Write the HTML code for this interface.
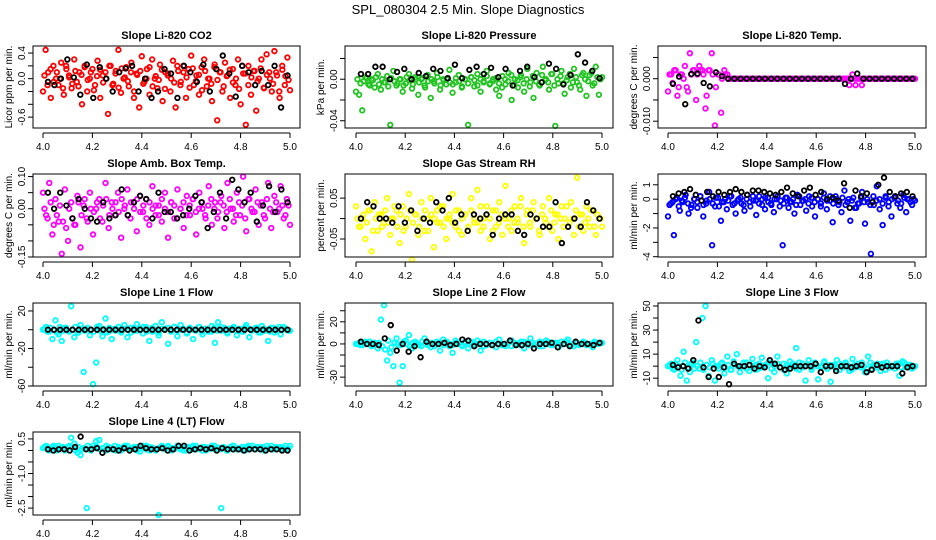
<!DOCTYPE html>
<html><head><meta charset="utf-8">
<style>
html,body{margin:0;padding:0;background:#fff;}
svg{display:block;font-family:"Liberation Sans",Arial,sans-serif;}
</style></head>
<body>
<svg id="chart" width="936" height="540" viewBox="0 0 936 540" xmlns="http://www.w3.org/2000/svg">
<text x="468" y="14" text-anchor="middle" font-size="13">SPL_080304  2.5 Min. Slope Diagnostics</text>
</svg>
<script>
const xTicks = [4.0, 4.2, 4.4, 4.6, 4.8, 5.0];
const xTickLabels = ["4.0", "4.2", "4.4", "4.6", "4.8", "5.0"];

const co2Main = [-0.2,0.45,0.1,-0.3,0.2,0.0,-0.1,0.25,-0.25,0.15,0.05,-0.15,0.3,-0.05,0.1,-0.4,0.2,-0.2,0.0,0.15,-0.1,0.28,-0.3,0.05,0.1,-0.55,0.2,-0.08,0.12,0.45,-0.22,0.0,0.18,-0.12,0.25,-0.3,0.08,-0.45,0.35,-0.05,0.15,-0.25,0.3,0.0,-0.15,0.22,-0.35,0.1,0.05,-0.2,0.28,-0.45,0.12,-0.05,0.2,-0.3,0.15,0.36,-0.1,0.05,-0.25,0.18,0.3,-0.12,0.0,-0.35,0.22,-0.65,0.1,-0.2,0.25,0.05,-0.3,0.15,-0.1,0.3,-0.4,0.08,-0.72,0.2,-0.25,0.12,-0.5,0.0,0.3,-0.15,0.38,0.1,-0.2,0.43,0.05,-0.3,0.2,-0.1,0.33,-0.18];
const co2Core = [0.05,-0.1,0.15,-0.05,0.1,0.0,-0.15,0.2,0.02,-0.08,0.12,-0.12,0.06,0.18,-0.02,0.1,-0.18,0.04,0.14,-0.06,0.0,0.2,-0.1,0.08,-0.14,0.16,0.02,-0.04,0.1,-0.2,0.06,0.12,-0.08,0.0,0.18,-0.12,0.04,-0.02,0.14,-0.16,0.08,0.0,-0.06,0.2,-0.1,0.1,0.02,-0.14,0.16,-0.04,0.06,-0.18,0.12,0.0,-0.08,0.18,-0.02,0.1,-0.12,0.04,0.14,-0.06,0.0,-0.16,0.2,0.08,-0.1,0.02,0.12,-0.04,0.16,-0.14,0.06,0.0,-0.08,0.1,-0.2,0.14,0.04,-0.02];
const co2Black = [-0.05,-0.1,0.0,0.3,0.02,-0.25,0.22,-0.3,0.18,0.0,-0.2,0.1,0.16,0.2,-0.2,0.0,-0.3,-0.2,0.15,0.08,-0.3,0.2,0.1,-0.05,0.22,-0.2,0.15,0.36,0.08,-0.28,0.2,0.1,-0.1,0.12,-0.1,0.2,-0.45,0.05];

const presMain = [-0.012,-0.015,-0.03,0.002,-0.005,0.0,-0.008,0.005,-0.01,-0.003,0.003,-0.044,0.008,-0.006,0.0,-0.012,-0.004,0.005,-0.009,0.002,-0.015,0.0,-0.006,0.004,-0.018,-0.002,0.006,-0.01,0.0,-0.005,0.009,-0.013,-0.003,0.004,-0.008,0.0,-0.044,0.002,-0.007,0.005,-0.012,-0.002,0.008,-0.004,0.0,-0.01,-0.016,0.003,-0.005,0.006,-0.02,0.0,-0.008,0.004,-0.012,0.01,-0.003,-0.018,0.006,-0.006,0.012,0.0,-0.01,0.005,-0.045,-0.004,0.008,-0.014,0.002,-0.008,0.01,-0.003,-0.01,0.006,-0.016,0.004,-0.006,0.012,-0.015,0.002];
const presCore = [0.0,-0.004,-0.002,0.001,-0.006,-0.001,0.002,-0.005,0.0,-0.003,-0.007,0.001,-0.002,-0.004,0.0,-0.006,0.002,-0.001,-0.005,0.0,-0.003,0.001,-0.008,-0.002,0.0,-0.004,0.002,-0.006,-0.001,0.0,-0.003,-0.005,0.001,-0.002,-0.007,0.0,-0.004,0.002,-0.001,-0.006,0.0,-0.003,0.003,-0.005,-0.002,0.001,-0.004,-0.008,0.0,-0.002,0.004,-0.006,-0.001,0.002,-0.004,0.0,-0.007,0.003,-0.002,-0.005,0.004,-0.001,-0.003,0.005,-0.006,0.0,0.003,-0.004,-0.001,0.005,-0.003,0.002,-0.006,0.004,0.0,-0.002,0.006,-0.004,0.002,0.0];
const presBlack = [0.005,0.005,0.012,0.012,0.0,0.007,0.01,0.0,0.006,0.003,0.01,0.008,0.001,0.014,0.001,0.009,0.012,0.005,0.011,0.002,0.01,-0.006,0.008,0.012,0.002,-0.003,0.015,0.01,-0.005,0.004,0.024,0.016,0.008,0.001];

const tempMain = [-0.003,0.001,0.002,-0.004,0.001,0.0,-0.002,0.006,0.002,-0.005,0.003,0.002,-0.007,0.002,0.006,-0.011,0.001,-0.008,0.002,0.001,0,0,0,0,0,0,0,0,0,0,0,0,0,0,0,0,0,0,0,0,0,0,0,0,0,0,0,0,0,0,0,0,0,0,0,0,0,0,-0.0015,0.001,-0.0015,0,-0.0015,0,0,0,0,0,0,0,0,0,0,0,0,0,0,0,0,0];
const tempCore = [0.001,-0.001,0.002,-0.002,0.001,0.003,-0.003,0.001,0.002,0.001,0.002,0.001,-0.004,0.002,0.001,-0.002,0.001,0.0,0.001,0,0,0,0,0,0,0,0,0,0,0,0,0,0,0,0,0,0,0,0,0,0,0,0,0,0,0,0,0,0,0,0,0,0,0,0,0,0,0,0,0,0,0,0,0,0,0,0,0,0,0,0,0,0,0,0,0,0,0,0,0];
const tempBlack = [-0.0012,0.0005,-0.006,0.0011,0.0012,-0.001,-0.0018,0.0015,0.0006,0,0,0,0,0,0,0,0,0,0,0,0,0,0,0,0,0,0,0,-0.0012,0,0.0012,0,0,0,0,0,0,0,0,0];

const ambMain = [0.05,-0.02,0.08,-0.08,0.03,-0.04,-0.14,0.06,-0.1,0.02,-0.05,0.04,-0.12,0.01,-0.03,0.05,-0.08,0.0,0.03,-0.04,0.08,-0.06,0.02,-0.02,0.05,-0.09,0.0,0.06,-0.03,0.02,-0.07,0.04,-0.01,0.03,-0.05,0.07,-0.02,0.01,-0.04,0.05,-0.09,0.02,-0.03,0.06,0.0,-0.06,0.04,-0.02,0.03,-0.08,0.05,0.0,-0.03,0.07,-0.05,0.02,-0.01,0.04,-0.06,0.08,0.0,-0.04,0.05,-0.02,0.1,-0.07,0.03,-0.01,0.06,-0.05,0.02,-0.03,0.08,-0.06,0.04,-0.01,0.07,-0.03,0.03,-0.05];
const ambCore = [0.0,-0.03,0.02,-0.05,-0.02,0.01,-0.04,-0.06,0.0,-0.03,-0.05,0.02,-0.02,0.03,-0.04,0.0,-0.01,0.02,-0.03,0.01,0.03,-0.02,0.0,0.02,-0.01,0.03,0.01,-0.02,0.02,0.0,0.03,-0.01,0.01,-0.03,0.02,0.0,0.01,-0.02,0.03,0.0,-0.01,0.02,0.01,-0.03,0.0,0.02,-0.02,0.01,0.03,-0.01,0.0,0.02,-0.02,0.01,0.03,0.0,-0.03,0.02,0.01,-0.01,0.03,0.0,-0.02,0.02,0.01,-0.03,0.03,0.0,-0.01,0.02,0.01,-0.02,0.03,0.0,-0.01,0.02,0.0,0.01,-0.02,0.01];
const ambBlack = [0.05,0.0,0.05,0.01,-0.03,0.03,0.0,-0.03,-0.04,0.02,-0.03,-0.02,0.06,-0.02,0.02,0.04,0.03,-0.03,0.05,-0.01,-0.01,-0.03,-0.02,0.0,0.04,0.02,-0.06,-0.01,0.05,-0.03,0.09,0.06,0.02,0.05,-0.04,0.01,0.07,-0.01,0.06,0.02];

const rhMain = [0.03,-0.02,0.0,-0.05,0.02,-0.08,0.04,-0.03,0.01,-0.01,0.05,-0.04,0.0,0.02,-0.06,0.03,-0.02,0.06,-0.1,0.01,-0.04,0.04,-0.03,0.0,0.05,-0.07,0.02,-0.01,0.03,-0.05,0.0,0.06,-0.02,0.02,-0.04,0.01,-0.03,0.05,-0.01,0.07,-0.03,0.0,0.03,-0.05,0.02,-0.02,0.04,-0.04,0.08,0.0,-0.03,0.03,-0.01,0.05,-0.06,0.02,-0.02,0.04,0.0,-0.04,0.03,-0.01,0.05,-0.03,0.01,-0.05,0.03,0.0,-0.02,0.04,-0.04,0.1,0.01,-0.03,0.03,-0.02,0.02,-0.04,0.0,-0.02];
const rhCore = [0.0,-0.02,0.01,-0.01,0.02,-0.03,0.0,0.01,-0.02,0.02,-0.01,0.0,0.03,-0.02,0.01,-0.03,0.0,0.02,-0.01,0.01,-0.02,0.0,0.02,-0.03,0.01,0.0,-0.01,0.03,-0.02,0.0,0.01,-0.01,0.02,-0.03,0.0,0.01,-0.02,0.02,0.0,-0.01,0.03,-0.02,0.01,0.0,-0.03,0.02,-0.01,0.01,0.0,-0.02,0.02,-0.01,0.0,0.03,-0.02,0.01,-0.01,0.02,0.0,-0.03,0.01,0.0,-0.02,0.02,-0.01,0.01,0.0,-0.02,0.03,-0.01,0.0,0.02,-0.02,0.01,-0.01,0.0,0.02,-0.02,0.01,0.0];
const rhBlack = [0.0,0.04,0.03,0.0,0.0,-0.01,0.03,-0.01,0.02,-0.03,0.0,-0.01,0.04,0.02,0.05,-0.01,0.01,-0.03,0.01,0.0,0.01,-0.04,0.0,0.01,0.01,-0.03,-0.04,0.01,0.0,-0.02,-0.02,0.04,-0.06,-0.02,0.0,-0.02,0.04,0.02,0.0];

const flowMain = [-1.2,-0.3,-2.5,0.1,-0.8,-0.2,0.3,-1.0,-0.4,0.0,-0.6,0.2,-1.2,-0.3,0.5,-3.2,-0.5,0.1,-1.5,-0.2,-0.7,0.2,-0.4,-1.0,0.0,-0.3,-0.8,0.3,-0.5,-0.1,-1.1,0.2,-0.4,-0.7,0.1,-0.3,-0.9,0.0,-0.5,-3.2,0.1,-0.6,-0.2,-1.0,0.3,-0.4,-0.1,-0.8,0.2,-0.5,-1.2,0.0,-0.3,0.4,-0.7,-0.1,-1.6,0.2,-0.4,-0.9,0.6,-0.2,-1.5,0.1,-0.6,-0.3,0.5,-1.7,-0.2,-3.8,-0.4,0.9,-0.7,-1.8,0.2,-0.5,-1.2,0.1,-0.3,-0.6,0.3,-0.9,0.0,-0.4,-0.1];
const flowCore = [-0.4,-0.2,0.0,-0.5,-0.1,0.1,-0.3,-0.6,0.0,-0.2,0.2,-0.4,-0.1,0.0,-0.3,0.1,-0.5,-0.2,0.0,-0.1,0.2,-0.3,-0.1,0.1,-0.4,0.0,-0.2,0.2,-0.1,-0.3,0.0,0.1,-0.2,-0.4,0.0,0.2,-0.1,-0.3,0.1,-0.2,0.0,-0.4,0.2,-0.1,0.0,-0.3,0.1,-0.2,0.0,-0.5,0.1,-0.1,0.2,-0.3,0.0,-0.2,0.1,-0.4,0.0,-0.1,-0.6,-0.3,0.1,-0.2,0.0,-0.4,0.2,-0.1,0.0,-0.3,0.1,-0.2,0.0,0.2,-0.1,-0.3,0.1,0.0,-0.2,0.0];
const flowBlack = [0.2,0.4,0.5,0.7,0.3,-0.1,0.5,0.2,0.5,0.3,0.5,0.7,0.5,0.3,0.6,0.6,0.5,0.4,0.3,0.5,0.8,0.4,0.2,0.6,0.8,0.3,0.5,0.0,0.1,-0.1,1.1,-0.6,0.6,0.2,0.4,-0.2,1.0,1.5,0.5,0.2,0.4,0.5,0.2];

const line1Main = [0,3,-2,-10,10,-5,-12,2,-1,25,-8,-3,5,-45,0,-6,-58,-35,4,-7,12,-2,-10,1,0,-3,5,-8,2,-1,6,0,-4,3,-12,-2,4,-6,8,1,-15,-2,3,-7,5,0,-4,2,-10,0,3,-5,1,-2,4,-14,8,-1,2,-4,0,3,-6,1,-2,5,-8,0,2,-3,4,-1,-12,2,-3,1,-5,3,0,-1];
const line1Core = [1,-2,2,0,-3,3,-1,2,-2,0,3,-3,1,-1,2,0,-2,3,-1,1,-3,2,0,-1,3,-2,1,0,-3,2,-1,1,3,-2,0,2,-1,-3,1,0,2,-2,3,-1,0,1,-3,2,0,-1,3,-2,1,0,-2,2,-1,3,0,-3,1,2,-1,0,-2,3,1,-1,0,2,-3,1,0,-2,2,-1,3,0,1,-1];
const line1Black = [0,0,0,0,0,0,0,0,0,0,0,0,0,0,0,0,0,0,0,0,0,0,0,0,0,0,0,0,0,0,0,0,0,0,0,0,0,0,0,0];

const line2Main = [0,1,-1,2,0,-2,1,-4,22,35,-15,-8,-20,5,-35,-20,3,8,-4,2,0,-2,5,1,-3,0,2,-6,4,1,-2,-8,3,0,-1,2,-4,1,0,3,-6,2,-1,1,0,-3,4,0,-2,1,3,-1,0,2,-4,1,5,-1,0,2,-2,3,0,-1,1,-3,2,0,4,-1,-2,1,0,2,-1,0,-3,1,0,1];
const line2Core = [0,-1,1,0,2,-1,0,1,-2,-5,3,-3,1,0,-1,2,0,-2,1,0,-1,2,0,-1,1,-2,0,1,-1,2,0,-1,1,0,-2,1,0,2,-1,0,1,-2,0,1,-1,2,0,-1,0,1,-2,1,0,-1,2,0,-1,1,0,-2,1,0,2,-1,0,1,-1,0,2,-2,0,1,-1,0,1,0,-1,2,0,1];
const line2Black = [2,0,0,-1,5,17,-6,0,-7,-2,-12,2,0,0,1,-1,0,4,3,-2,0,0,-1,0,0,3,-1,-1,0,-4,0,0,1,-3,0,-2,2,0,0,-1,1];

const line3Main = [0,2,-3,5,-8,12,-12,-5,3,20,-2,40,50,-8,5,-12,0,2,-6,8,-3,4,10,-5,0,3,-4,6,1,-2,7,0,-10,3,-5,8,-1,2,-6,4,0,15,-3,2,-12,5,-1,3,-11,0,4,-2,-13,1,5,-3,0,2,-4,6,-1,0,3,-5,8,-2,0,2,-4,1,3,-1,0,2,-8,4,-1,1,-2,0];
const line3Core = [1,-2,2,0,-3,3,-1,2,-2,0,3,-3,1,-1,2,0,-2,3,-1,1,-3,2,0,-1,3,-2,1,0,-3,2,-1,1,3,-2,0,2,-1,-3,1,0,2,-2,3,-1,0,1,-3,2,0,-1,3,-2,1,0,-2,2,-1,3,0,-3,1,2,-1,0,-2,3,1,-1,0,2,-3,1,0,-2,2,-1,3,0,1,-1];
const line3Black = [1,-1,0,-2,5,38,-1,-9,-2,-9,-1,-15,2,0,0,1,-2,0,-1,5,2,-1,-3,-2,0,0,0,0,2,-5,0,0,-4,0,0,-1,0,1,-5,-3,1,-1,0,0,0,-6,-1,0];

const line4Main = [0.1,0.2,0.0,0.15,0.05,0.2,0.1,0.0,0.15,0.55,0.3,-0.1,-0.2,0.1,-2.5,0.05,0.2,0.4,0.45,0.1,0.0,0.15,0.05,0.2,0.1,0.0,0.12,0.2,0.05,0.1,0.15,-0.05,0.1,0.2,0.0,0.12,0.05,-2.8,0.15,0.1,0.2,0.0,0.1,0.18,0.05,0.1,0.0,0.15,0.2,0.05,0.1,0.15,0.0,0.1,0.2,0.05,0.12,-2.5,0.1,0.0,0.15,0.2,0.05,0.1,0.0,0.15,0.1,0.2,0.05,0.1,0.15,0.0,0.1,0.2,0.05,0.1,0.15,0.1,0.05,0.2];
const line4Core = [0.15,0.05,0.1,0.2,0.0,0.1,0.15,0.05,0.2,0.1,0.0,0.15,0.05,0.1,0.2,0.0,0.1,0.15,0.05,0.1,0.2,0.05,0.1,0.0,0.15,0.1,0.2,0.05,0.1,0.15,0.0,0.1,0.2,0.05,0.15,0.1,0.0,0.1,0.2,0.05,0.15,0.1,0.05,0.2,0.1,0.0,0.15,0.1,0.05,0.2,0.1,0.0,0.15,0.05,0.1,0.2,0.1,0.05,0.15,0.0,0.1,0.2,0.05,0.1,0.15,0.0,0.2,0.1,0.05,0.15,0.1,0.0,0.2,0.1,0.05,0.15,0.1,0.05,0.2,0.1];
const line4Black = [0.05,0.0,0.05,0.05,0.0,0.15,0.6,0.05,0.05,0.1,-0.1,0.05,0.05,0.0,0.1,0.0,0.05,0.2,0.1,0.05,0.05,0.1,0.0,0.05,0.2,0.2,0.0,0.05,0.1,0.05,0.1,0.0,0.1,0.05,0.05,0.05,0.0,0.05,0.05,0.05,0.0,0.05,0.05,0.0,0.0];

const NS = "http://www.w3.org/2000/svg";
const svg = document.getElementById("chart");
const cols = [{l:33,r:300,x0:43,x1:290},{l:345,r:613,x0:356,x1:602},{l:658,r:926,x0:668,x1:915}];
const rows = [{t:46,b:128},{t:174,b:257},{t:303,b:386},{t:432,b:515}];

function mk(tag, attrs, parent){
  const e = document.createElementNS(NS, tag);
  for (const k in attrs) e.setAttribute(k, attrs[k]);
  (parent||svg).appendChild(e);
  return e;
}

function panel(name, title, ylab, col, row, ymin, ymax, yticks, ylabels, color, main, core, black){
  const c = cols[col], r = rows[row];
  const g = mk("g", {});
  
  
  const sx = v => c.x0 + (v - 4) * (c.x1 - c.x0);
  const sy = v => r.b - (v - ymin) / (ymax - ymin) * (r.b - r.t);
  const t = mk("text", {x:(c.l+c.r)/2, y:r.t-7, "text-anchor":"middle", "font-size":"11", "font-weight":"bold"}, g);
  t.textContent = title;
  
  
  const ptsG = mk("g", {}, g);
  
  
  main.forEach((v, i) => {
    const x = 4 + i / (main.length - 1);
    const p = mk("circle", {cx:sx(x), cy:sy(v), r:2.3, fill:"none", stroke:color, "stroke-width":1.8}, ptsG);
    
    
  });
  core.forEach((v, i) => {
    const x = 4.006 + 0.988 * i / (core.length - 1);
    const p = mk("circle", {cx:sx(x), cy:sy(v), r:2.3, fill:"none", stroke:color, "stroke-width":1.8}, ptsG);
    
    
  });
  const bG = mk("g", {}, g);
  
  
  black.forEach((v, i) => {
    const x = 4.02 + 0.97 * i / (black.length - 1);
    const p = mk("circle", {cx:sx(x), cy:sy(v), r:2.3, fill:"none", stroke:"#000", "stroke-width":1.8}, bG);
    
    
  });
  const box = mk("rect", {x:c.l, y:r.t, width:c.r-c.l, height:r.b-r.t, fill:"none", stroke:"#000", "stroke-width":1}, g);
  
  
  const ax = mk("g", {}, g);
  
  
  mk("line", {x1:sx(xTicks[0]), x2:sx(xTicks[xTicks.length-1]), y1:r.b+5, y2:r.b+5, stroke:"#000"}, ax);
  xTicks.forEach((v, i) => {
    mk("line", {x1:sx(v), x2:sx(v), y1:r.b+5, y2:r.b+10, stroke:"#000"}, ax);
    const tl = mk("text", {x:sx(v), y:r.b+22, "text-anchor":"middle", "font-size":"10"}, ax);
    tl.textContent = xTickLabels[i];
    
    
  });
  const ay = mk("g", {}, g);
  
  
  const ax0 = c.l;
  mk("line", {x1:ax0, x2:ax0, y1:sy(yticks[0]), y2:sy(yticks[yticks.length-1]), stroke:"#000"}, ay);
  yticks.forEach(v => mk("line", {x1:ax0-5, x2:ax0, y1:sy(v), y2:sy(v), stroke:"#000"}, ay));
  ylabels.forEach(v => {
    const tl = mk("text", {x:0, y:0, "text-anchor":"middle", "font-size":"10", transform:"translate("+(ax0-8)+","+sy(v[0])+") rotate(-90)"}, ay);
    tl.textContent = v[1];
    
    
  });
  const yt = mk("text", {x:0, y:0, "text-anchor":"middle", "font-size":"10", transform:"translate("+(ax0-21)+","+((r.t+r.b)/2)+") rotate(-90)"}, g);
  yt.textContent = ylab;
  
  
}

panel("co2","Slope Li-820 CO2","Licor ppm per min.",0,0,-0.77,0.51,[-0.6,-0.4,-0.2,0,0.2,0.4],[[0.4,"0.4"],[0,"0.0"],[-0.6,"-0.6"]],"#ff0000",co2Main,co2Core,co2Black);
panel("pressure","Slope Li-820 Pressure","kPa per min.",1,0,-0.047,0.032,[-0.04,-0.02,0,0.02],[[0,"0.00"],[-0.04,"-0.04"]],"#22c422",presMain,presCore,presBlack);
panel("temp","Slope Li-820 Temp.","degrees C per min.",2,0,-0.0116,0.0077,[-0.01,-0.005,0,0.005],[[0,"0.000"],[-0.01,"-0.010"]],"#ff00ff",tempMain,tempCore,tempBlack);
panel("amb-temp","Slope Amb. Box Temp.","degrees C per min.",0,1,-0.15,0.108,[-0.15,-0.1,-0.05,0,0.05,0.1],[[0.1,"0.10"],[0,"0.00"],[-0.15,"-0.15"]],"#ff00ff",ambMain,ambCore,ambBlack);
panel("rh","Slope Gas Stream RH","percent per min.",1,1,-0.094,0.109,[-0.05,0,0.05],[[0.05,"0.05"],[-0.05,"-0.05"]],"#ffff00",rhMain,rhCore,rhBlack);
panel("sample-flow","Slope Sample Flow","ml/min per min.",2,1,-4.02,1.75,[-4,-3,-2,-1,0,1],[[1,"1"],[0,"0"],[-2,"-2"],[-4,"-4"]],"#0000ff",flowMain,flowCore,flowBlack);
panel("line1","Slope Line 1 Flow","ml/min per min.",0,2,-60,28.5,[-60,-40,-20,0,20],[[20,"20"],[-20,"-20"],[-60,"-60"]],"#00ffff",line1Main,line1Core,line1Black);
panel("line2","Slope Line 2 Flow","ml/min per min.",1,2,-38,37,[-30,-20,-10,0,10,20,30],[[20,"20"],[0,"0"],[-30,"-30"]],"#00ffff",line2Main,line2Core,line2Black);
panel("line3","Slope Line 3 Flow","ml/min per min.",2,2,-16.5,52.5,[-10,0,10,20,30,40,50],[[50,"50"],[30,"30"],[10,"10"],[-10,"-10"]],"#00ffff",line3Main,line3Core,line3Black);
panel("line4","Slope Line 4 (LT) Flow","ml/min per min.",0,3,-2.8,0.8,[-2.5,-2,-1.5,-1,-0.5,0,0.5],[[0.5,"0.5"],[-1,"-1.0"],[-2.5,"-2.5"]],"#00ffff",line4Main,line4Core,line4Black);
</script>
</body></html>
